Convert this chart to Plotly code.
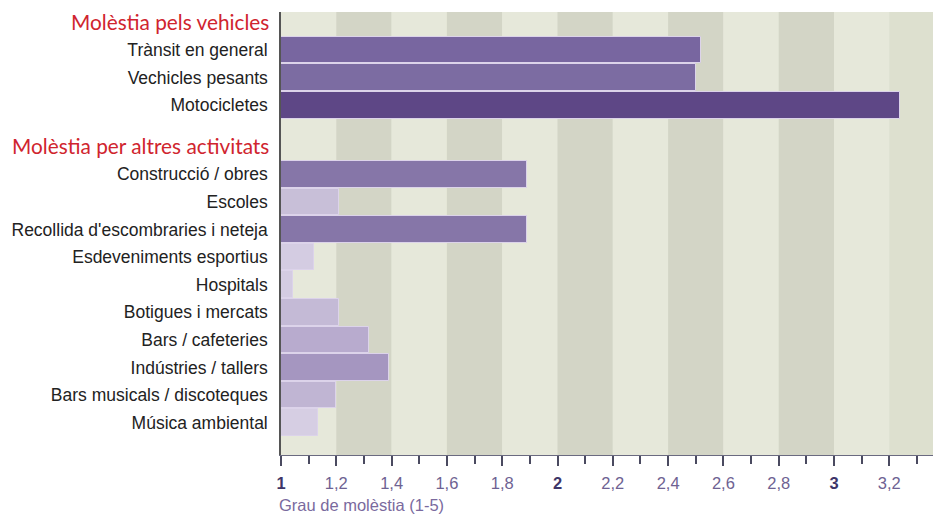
import plotly.graph_objects as go

# ---- data ----
group_titles = ["Molèstia pels vehicles", "Molèstia per altres activitats"]
vehicle_labels = ["Trànsit en general", "Vechicles pesants", "Motocicletes"]
vehicle_values = [2.52, 2.50, 3.24]
vehicle_colors = ["#7866A0", "#7C6CA2", "#5E4786"]
activity_labels = ["Construcció / obres", "Escoles", "Recollida d'escombraries i neteja",
                   "Esdeveniments esportius", "Hospitals", "Botigues i mercats",
                   "Bars / cafeteries", "Indústries / tallers",
                   "Bars musicals / discoteques", "Música ambiental"]
activity_values = [1.89, 1.21, 1.89, 1.12, 1.045, 1.21, 1.32, 1.39, 1.20, 1.135]
activity_colors = ["#8676A8", "#C8BFD8", "#8676A8", "#D4CCE2", "#D4CCE2",
                   "#C4BAD6", "#B8ABCE", "#A596C0", "#C0B5D3", "#D6CEE3"]
tick_values = [1, 1.2, 1.4, 1.6, 1.8, 2, 2.2, 2.4, 2.6, 2.8, 3, 3.2]
tick_labels = ["1", "1,2", "1,4", "1,6", "1,8", "2", "2,2", "2,4", "2,6", "2,8", "3", "3,2"]
x_title = "Grau de molèstia (1-5)"

groups = [(group_titles[0], vehicle_labels, vehicle_values, vehicle_colors),
          (group_titles[1], activity_labels, activity_values, activity_colors)]

# ---- row layout ----
header_pos, labels, values, colors, ypos = [], [], [], [], []
pos = 0.0
for gi, (title, labs, vals, cols) in enumerate(groups):
    if gi > 0:
        pos += 0.5
    header_pos.append(pos)
    pos += 1
    for l, v, c in zip(labs, vals, cols):
        labels.append(l); values.append(v); colors.append(c); ypos.append(pos)
        pos += 1

fig = go.Figure()
fig.add_trace(go.Bar(
    orientation="h", y=ypos, x=values, width=0.96,
    marker=dict(color=colors, line=dict(color="#DCD3EA", width=1)),
    hoverinfo="skip", showlegend=False,
))

x_min, x_max = 1, 3.358
# background stripes
light, dark = "#E6E8DA", "#D3D5C6"
edges = tick_values + [3.4]
shapes = []
for i in range(len(edges) - 1):
    c = dark if i % 2 == 1 else light
    if i == len(edges) - 2:
        c = "#DDE0CF"
    shapes.append(dict(type="rect", xref="x", yref="paper", x0=edges[i], x1=min(edges[i + 1], x_max),
                       y0=0, y1=1, fillcolor=c, line=dict(width=0), layer="below"))

annotations = []
for t, p in zip(group_titles, header_pos):
    annotations.append(dict(text=t, xref="paper", yref="y", x=0, y=p, xanchor="right",
                            yanchor="middle", xshift=-10, yshift=1, showarrow=False,
                            font=dict(family="Lato", size=20.8, color="#D0242E")))
annotations.append(dict(text=x_title, xref="paper", yref="paper", x=0, y=0, xanchor="left",
                        yanchor="middle", xshift=-4, yshift=-50, showarrow=False,
                        font=dict(family="Liberation Sans", size=16.5, color="#7A6A9E")))

ticktext = []
for v, t in zip(tick_values, tick_labels):
    if float(v).is_integer():
        ticktext.append(f"<b><span style='color:#3E3568'>{t}</span></b>")
    else:
        ticktext.append(t)

fig.update_layout(
    width=941, height=517,
    margin=dict(l=281, r=8, t=12, b=62, autoexpand=False),
    paper_bgcolor="white", plot_bgcolor=light,
    shapes=shapes, annotations=annotations,
    bargap=0,
    xaxis=dict(range=[x_min, x_max], tickvals=tick_values, ticktext=ticktext, automargin=False,
               showgrid=False, zeroline=False, showline=True, linecolor="#6A6A80", linewidth=1,
               ticks="outside", ticklen=10, tickcolor="#4A4A60", tickwidth=1.5,
               ticklabelstandoff=3,
               minor=dict(dtick=0.1, ticks="outside", ticklen=8, tickcolor="#4A4A60", tickwidth=1.5),
               tickfont=dict(family="Liberation Sans", size=16.5, color="#6E6292")),
    yaxis=dict(range=[15.67, -0.38], tickvals=ypos, ticktext=labels, automargin=False,
               showgrid=False, zeroline=False, showline=True, linecolor="#555555", linewidth=1.5,
               ticks="", ticklabelstandoff=8,
               tickfont=dict(family="Liberation Sans", size=17.5, color="#222222")),
)

fig.write_html("out.html", config={"displayModeBar": False},
               post_script="document.body.style.margin='0';")
